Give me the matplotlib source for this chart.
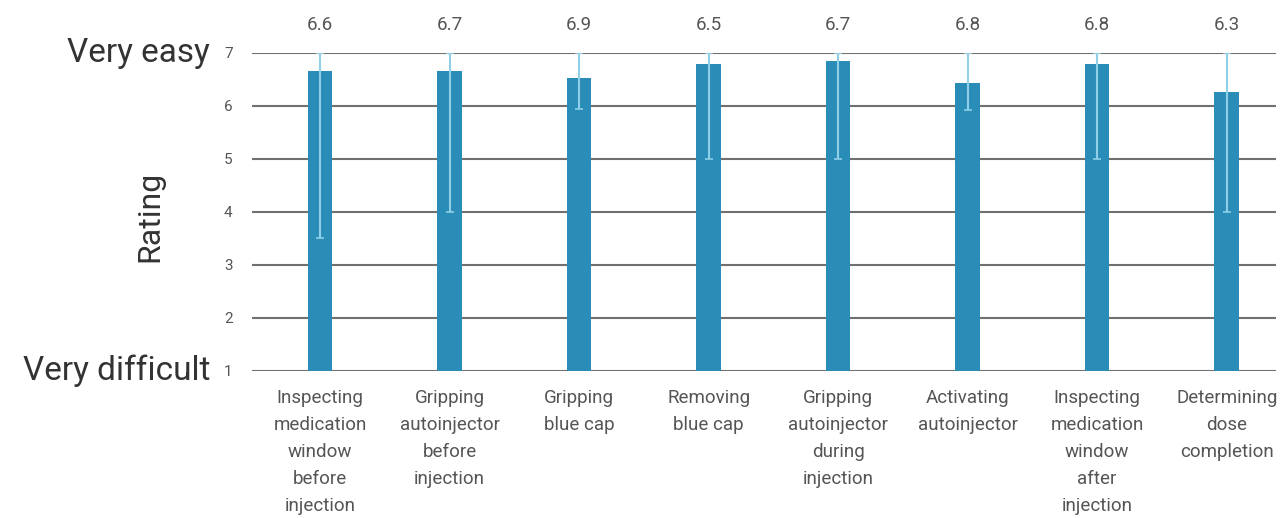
import numpy as np
import matplotlib
matplotlib.use('Agg')
import matplotlib.pyplot as plt

plt.rcParams['font.family'] = ['Roboto', 'DejaVu Sans']

tasks = [
    "Inspecting\nmedication\nwindow\nbefore\ninjection",
    "Gripping\nautoinjector\nbefore\ninjection",
    "Gripping\nblue cap",
    "Removing\nblue cap",
    "Gripping\nautoinjector\nduring\ninjection",
    "Activating\nautoinjector",
    "Inspecting\nmedication\nwindow\nafter\ninjection",
    "Determining\ndose\ncompletion",
]
bar_values = [6.66, 6.66, 6.52, 6.79, 6.85, 6.43, 6.79, 6.26]
range_low = [3.5, 4.0, 5.95, 5.0, 5.0, 5.93, 5.0, 4.0]
range_high = [7, 7, 7, 7, 7, 7, 7, 7]
shown_labels = ["6.6", "6.7", "6.9", "6.5", "6.7", "6.8", "6.8", "6.3"]

bar_color = "#2a8db8"
err_color = "#8fd0e8"
text_color = "#555555"

fig = plt.figure(figsize=(12.87, 5.18), dpi=100)
ax = fig.add_axes([0.1958, 0.2844, 0.7956, 0.6133])

x = np.arange(len(tasks))
vals = np.array(bar_values)
ax.bar(x, vals - 1, bottom=1, width=0.19, color=bar_color, zorder=2)

# light blue range lines drawn on top of the bars
yerr = [vals - np.array(range_low), np.array(range_high) - vals]
ax.errorbar(x, vals, yerr=yerr, fmt='none', ecolor=err_color,
            elinewidth=1.5, capsize=3, capthick=1.2, zorder=3)

for xi, lab in zip(x, shown_labels):
    ax.text(xi, 7.52, lab, ha='center', va='center', fontsize=13.5,
            color=text_color)

ax.set_xlim(-0.525, 7.38)
ax.set_ylim(1, 7)
ax.set_yticks(range(1, 8))
ax.set_yticklabels([str(i) for i in range(1, 8)], fontsize=11, color=text_color)
ax.yaxis.grid(True, color="#707070", linewidth=1.5, zorder=0)
ax.set_axisbelow(True)
ax.tick_params(axis='y', length=0, pad=14)
ax.tick_params(axis='x', length=0, pad=13)
ax.set_xticks(x)
ax.set_xticklabels(tasks, fontsize=13.5, color=text_color, va='top',
                   linespacing=1.64)
for s in ax.spines.values():
    s.set_visible(False)

ax.text(-0.041, 1.0, "Very easy", transform=ax.transAxes, ha='right',
        va='center', fontsize=24, color="#333333")
ax.text(-0.041, 0.0, "Very difficult", transform=ax.transAxes, ha='right',
        va='center', fontsize=24, color="#333333")
fig.text(0.1166, 0.583, "Rating", rotation=90, ha='center', va='center',
         fontsize=23, color="#333333")

fig.savefig("out.png", dpi=100)
